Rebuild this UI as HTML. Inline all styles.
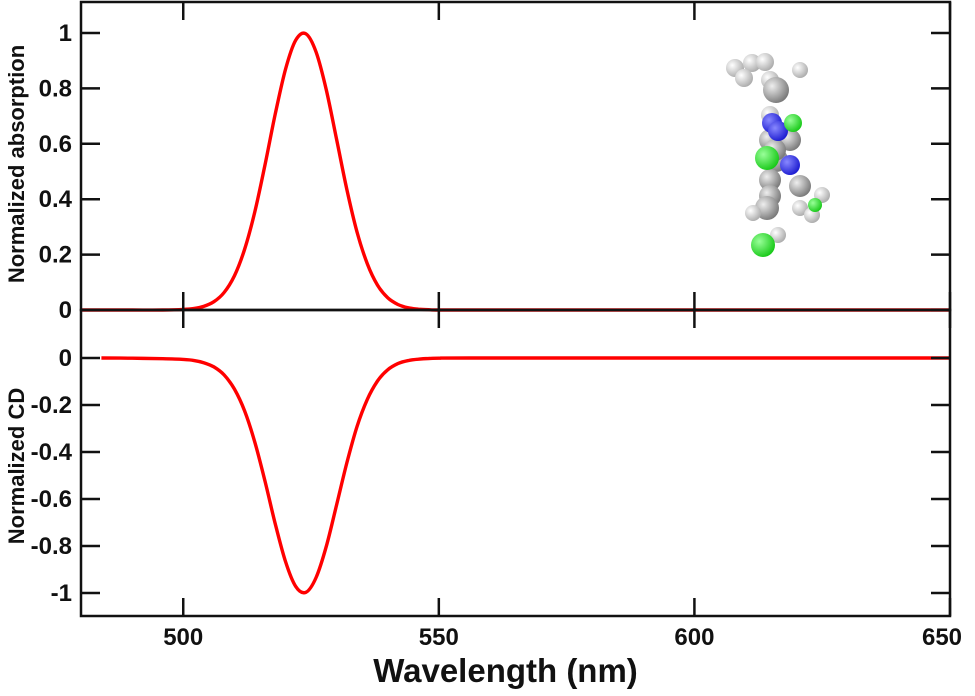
<!DOCTYPE html>
<html><head><meta charset="utf-8"><style>
body{margin:0;background:#fff}
svg text{font-family:"Liberation Sans",sans-serif;font-weight:bold;fill:#111}
</style></head><body>
<svg id="chart" width="975" height="691" viewBox="0 0 975 691" xmlns="http://www.w3.org/2000/svg">
<g id="molecule"></g>
<g id="plot"></g>
</svg>
<script>
const wavelengths=[484,490,496,500,502,504,506,508,510,512,514,516,518,520,522,524,526,528,530,532,534,536,538,540,542,544,546,548,550,556,600,650];
const absValues=[0,0,0,0.002,0.005,0.013,0.030,0.063,0.123,0.219,0.354,0.524,0.707,0.869,0.974,0.997,0.931,0.793,0.616,0.436,0.282,0.167,0.090,0.044,0.020,0.008,0.003,0.001,0,0,0,0];
const cdValues=[0,-0.001,-0.003,-0.006,-0.010,-0.020,-0.038,-0.072,-0.132,-0.225,-0.358,-0.524,-0.705,-0.866,-0.972,-0.997,-0.934,-0.800,-0.625,-0.447,-0.292,-0.176,-0.098,-0.050,-0.024,-0.011,-0.005,-0.002,-0.001,0,0,0];
const xTicks=[500,550,600,650];
const absTicks=[0,0.2,0.4,0.6,0.8,1];
const absTickLabels=["0","0.2","0.4","0.6","0.8","1"];
const cdTicks=[0,-0.2,-0.4,-0.6,-0.8,-1];
const cdTickLabels=["0","-0.2","-0.4","-0.6","-0.8","-1"];

const NS="http://www.w3.org/2000/svg";
const L=81,R=950,T=2,M=310,B=616;
const X=v=>L+(v-480)*(R-L)/170;
const Ya=v=>310-v*277;
const Yc=v=>358-v*235;
const plot=document.getElementById('plot');
function mk(tag,attrs,parent){const e=document.createElementNS(NS,tag);for(const k in attrs)e.setAttribute(k,attrs[k]);(parent||plot).appendChild(e);return e;}
function smooth(pts){
  let d='M'+pts[0][0].toFixed(1)+','+pts[0][1].toFixed(1);
  for(let i=0;i<pts.length-1;i++){
    const p0=pts[Math.max(0,i-1)],p1=pts[i],p2=pts[i+1],p3=pts[Math.min(pts.length-1,i+2)];
    const c1=[p1[0]+(p2[0]-p0[0])/6,p1[1]+(p2[1]-p0[1])/6];
    const c2=[p2[0]-(p3[0]-p1[0])/6,p2[1]-(p3[1]-p1[1])/6];
    d+='C'+c1[0].toFixed(1)+','+c1[1].toFixed(1)+' '+c2[0].toFixed(1)+','+c2[1].toFixed(1)+' '+p2[0].toFixed(1)+','+p2[1].toFixed(1);
  }
  return d;
}

const pts1=[[L,Ya(0)]].concat(wavelengths.map((w,i)=>[X(w),Ya(absValues[i])]));
const p1=mk('path',{d:smooth(pts1),fill:'none',stroke:'#ff0000','stroke-width':3.4});


const pts2=wavelengths.map((w,i)=>[X(w),Yc(cdValues[i])]);
const p2=mk('path',{d:smooth(pts2),fill:'none',stroke:'#ff0000','stroke-width':3.4});



const f1=mk('rect',{x:L,y:T,width:R-L,height:M-T,fill:'none',stroke:'#111','stroke-width':2.5});


const f2=mk('rect',{x:L,y:M,width:R-L,height:B-M,fill:'none',stroke:'#111','stroke-width':2.5});



xTicks.forEach(v=>{
  const t1=mk('line',{x1:X(v),x2:X(v),y1:M-18,y2:M+18,stroke:'#111','stroke-width':2.5});
  
  
  const t2=mk('line',{x1:X(v),x2:X(v),y1:B,y2:B-18,stroke:'#111','stroke-width':2.5});
  
  
  const t3=mk('line',{x1:X(v),x2:X(v),y1:T,y2:T+18,stroke:'#111','stroke-width':2.5});
  
  
  const lb=mk('text',{x:X(v)-(v==650?8:0),y:645,'text-anchor':'middle','font-size':24});
  lb.textContent=v;
  
  
});
absTicks.forEach((v,i)=>{
  const t=mk('line',{x1:L,x2:L+19,y1:Ya(v),y2:Ya(v),stroke:'#111','stroke-width':2.5});
  
  
  const t2=mk('line',{x1:R,x2:R-19,y1:Ya(v),y2:Ya(v),stroke:'#111','stroke-width':2.5});
  
  
  const lb=mk('text',{x:72,y:Ya(v)+8,'text-anchor':'end','font-size':24});
  lb.textContent=absTickLabels[i];
  
  
});
cdTicks.forEach((v,i)=>{
  const t=mk('line',{x1:L,x2:L+19,y1:Yc(v),y2:Yc(v),stroke:'#111','stroke-width':2.5});
  
  
  const t2=mk('line',{x1:R,x2:R-19,y1:Yc(v),y2:Yc(v),stroke:'#111','stroke-width':2.5});
  
  
  const lb=mk('text',{x:72,y:Yc(v)+8,'text-anchor':'end','font-size':24});
  lb.textContent=cdTickLabels[i];
  
  
});
const xt=mk('text',{x:(L+R)/2-10,y:682,'text-anchor':'middle','font-size':33});
xt.textContent='Wavelength (nm)';


const ya=mk('text',{x:0,y:0,'text-anchor':'middle','font-size':22,transform:'translate(24,164) rotate(-90)'});
ya.textContent='Normalized absorption';


const yc=mk('text',{x:0,y:0,'text-anchor':'middle','font-size':22,transform:'translate(24,466) rotate(-90)'});
yc.textContent='Normalized CD';



const mol=document.getElementById('molecule');
const atoms=[
 [735,68,9,'w'],[752,63,9,'w'],[765,62,9,'w'],[744,78,9,'w'],[770,80,9,'w'],[800,70,8,'w'],[776,90,13,'g'],
 [776,160,12,'g'],[770,180,11,'g'],[770,196,11,'g'],[800,186,11,'g'],[790,140,11,'g'],[770,140,11,'g'],[775,150,11,'g'],
 [770,115,9,'w'],[772,123,10,'b'],[778,131,10,'b'],[793,123,9,'c'],
 [767,158,12,'c'],[790,165,10,'b'],[767,208,12,'g'],[800,208,8,'w'],[822,195,8,'w'],[812,215,8,'w'],[815,205,7,'c'],
 [753,213,8,'w'],[778,235,8,'w'],[763,245,12,'c']];
const cols={g:['#eee','#777'],w:['#fff','#aaa'],b:['#88f','#1a1ad0'],c:['#9f9','#16c816']};
const defs=mk('defs',{},mol);
Object.keys(cols).forEach(k=>{const g=mk('radialGradient',{id:'gr'+k,cx:'0.35',cy:'0.35',r:'0.7'},defs);mk('stop',{offset:'0','stop-color':cols[k][0]},g);mk('stop',{offset:'1','stop-color':cols[k][1]},g);});
atoms.forEach(a=>{const c=mk('circle',{cx:a[0],cy:a[1],r:a[2],fill:'url(#gr'+a[3]+')'},mol);

});
</script>
</body></html>
